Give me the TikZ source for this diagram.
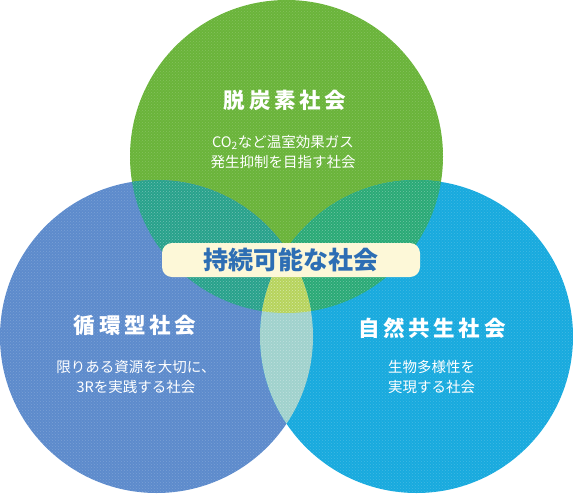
\documentclass[tikz,border=0pt]{standalone}
\usepackage{fontspec}
\newfontfamily\jpfont{Noto Sans CJK JP}
\usetikzlibrary{patterns}

\definecolor{lowcarbon}{RGB}{106,180,58}
\definecolor{recycle}{RGB}{93,139,204}
\definecolor{nature}{RGB}{24,170,222}
\definecolor{lcrec}{RGB}{40,162,140}
\definecolor{lcnat}{RGB}{42,170,118}
\definecolor{recnat}{RGB}{160,210,205}
\definecolor{allthree}{RGB}{182,212,92}
\definecolor{labelfill}{RGB}{253,248,216}
\definecolor{labeltext}{RGB}{45,110,180}

\begin{document}
\begin{tikzpicture}[x=1pt, y=-1pt,
  title/.style={text=white, inner sep=0pt, font=\jpfont\bfseries\fontsize{21.5}{24}\selectfont\addfontfeature{LetterSpace=17}},
  note/.style={text=white, inner sep=0pt, align=center, font=\jpfont\fontsize{14.5}{20}\selectfont},
  dotted fill/.style={pattern=crosshatch dots, pattern color=white, fill opacity=0.18}]
\useasboundingbox (0,0) rectangle (573,493);
\def\rad{156.5}
\coordinate (g) at (286.5,156.5);
\coordinate (b) at (156.5,336.5);
\coordinate (c) at (416.5,336.5);

% the three societies
\fill[lowcarbon] (g) circle[radius=\rad];
\fill[recycle] (b) circle[radius=\rad];
\fill[nature] (c) circle[radius=\rad];
\begin{scope}
  \clip (g) circle[radius=\rad];
  \fill[lcrec] (b) circle[radius=\rad];
  \fill[lcnat] (c) circle[radius=\rad];
\end{scope}
\begin{scope}
  \clip (b) circle[radius=\rad];
  \fill[recnat] (c) circle[radius=\rad];
  \clip (c) circle[radius=\rad];
  \fill[allthree] (g) circle[radius=\rad];
\end{scope}
\foreach \p in {g,b,c} \fill[dotted fill] (\p) circle[radius=\rad];

\node[title] (lct) at (285,100) {脱炭素社会};
\node[note] (lcn) at (283,152) {CO\textsubscript{2}など温室効果ガス\\発生抑制を目指す社会};
\node[title] (rct) at (135,325) {循環型社会};
\node[note] (rcn) at (136,377) {限りある資源を大切に、\\3Rを実践する社会};
\node[title] (nst) at (432,328) {自然共生社会};
\node[note] (nsn) at (431.5,377) {生物多様性を\\実現する社会};

\node[fill=labelfill, rounded corners=10pt, minimum width=258pt, minimum height=34pt,
  text=labeltext, font=\jpfont\bfseries\fontsize{25}{28}\selectfont] (sus) at (291,260) {持続可能な社会};
\end{tikzpicture}
\end{document}
